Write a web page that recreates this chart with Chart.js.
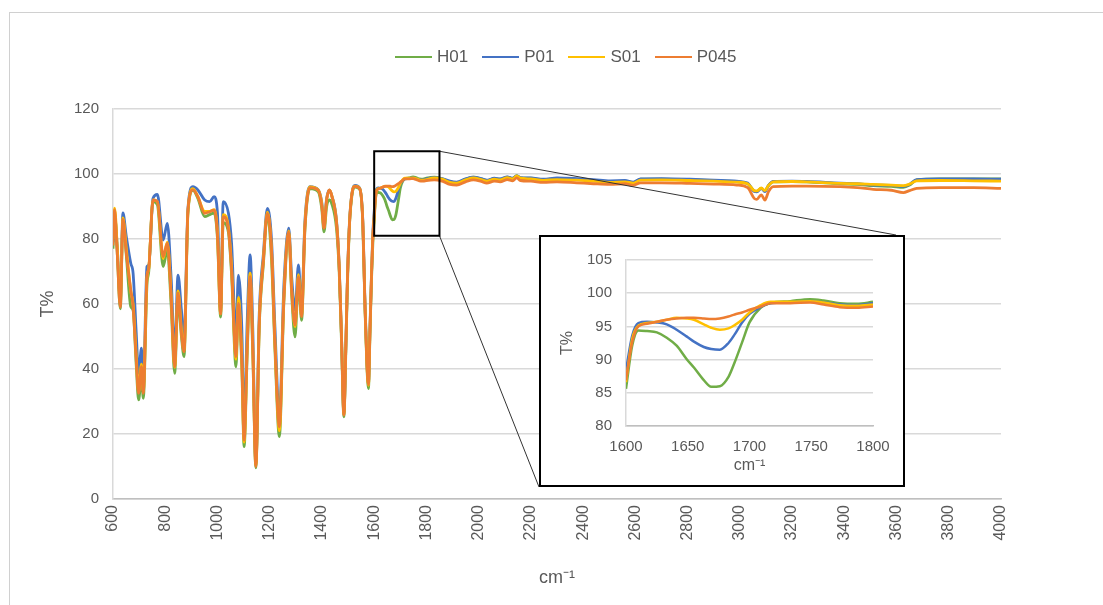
<!DOCTYPE html>
<html>
<head>
<meta charset="utf-8">
<title>FTIR</title>
<script src="https://cdn.jsdelivr.net/npm/chart.js@4"></script>
<style>
  html, body { margin: 0; padding: 0; background: #fff; overflow: hidden; }
  body { width: 1103px; height: 605px; position: relative; font-family: "Liberation Sans", Arial, sans-serif; }
  .frame { position: absolute; left: 9px; top: 12px; width: 1110px; height: 610px; border: 1px solid #d0d0d0; box-sizing: border-box; }
  #chart-main { position: absolute; left: 0; top: 0; }
  .legend { position: absolute; left: 395px; top: 47px; display: flex; align-items: center; font-size: 17px; color: #595959; }
  .legend-item { display: flex; align-items: center; margin-right: 14px; }
  .legend-line { display: inline-block; width: 37px; height: 2px; margin-right: 5px; }
  .inset { position: absolute; background: #fff; border: 2px solid #000; box-sizing: border-box; }
  .inset canvas { position: absolute; left: 0; top: 0; }
</style>
</head>
<body>
<div class="frame"></div>
<canvas id="chart-main" width="1103" height="605"></canvas>
<div class="legend"></div>
<div class="inset"><canvas id="chart-inset" width="362" height="248"></canvas></div>

<script>
// series
var seriesNames = ["H01", "P01", "S01", "P045"];
var seriesColors = ["#70AD47", "#4472C4", "#FFC000", "#ED7D31"];

// fingerprint region, 600 - 1595 cm-1
var lowWavenumbers = [600, 606, 616, 628, 638, 651, 668, 677, 689, 698, 709, 716, 730, 737, 753, 770, 792, 808, 823, 836,
  849, 862, 872, 887, 906, 925, 951, 970, 987, 1000, 1012, 1022, 1042, 1054, 1071, 1080, 1093, 1102, 1114, 1125,
  1135, 1147, 1160, 1176, 1191, 1207, 1220, 1237, 1254, 1273, 1284, 1297, 1310, 1322, 1335, 1354, 1386, 1399, 1408, 1418,
  1428, 1437, 1456, 1466, 1475, 1484, 1492, 1497, 1505, 1515, 1527, 1545, 1556, 1565, 1572, 1578, 1584, 1590, 1595];
var lowH01 = [77, 88, 76, 58.5, 86, 75, 59.2, 58, 41, 30.5, 37.6, 31, 65.8, 70, 91.5, 90.5, 71.5, 76.6, 59, 38.7,
  61.2, 50, 43.8, 88, 95, 92.5, 86.9, 87.5, 88, 80, 56, 85, 82, 69, 40.7, 59, 41, 16.1, 45, 67,
  45, 9.6, 53, 72.5, 87.5, 73.5, 46, 19.2, 60, 81.5, 63, 49.9, 67, 55, 83, 95.5, 94.5, 89.5, 82.2, 90,
  92, 91, 83, 70, 48, 25.3, 47, 64, 83.5, 93.5, 96, 95.2, 85.5, 58, 41, 34, 51, 68, 79];
var lowP01 = [79, 87, 78, 61, 88, 80.7, 72.5, 69.4, 51, 38.7, 46.4, 34.6, 71.5, 72, 92.5, 93.7, 79.7, 84.8, 67.4, 44.8,
  68.9, 58.1, 48.9, 89.5, 96.1, 95.1, 92, 91.5, 93, 88, 58, 91.5, 87.9, 78.7, 49.9, 68.9, 53, 22.2, 55, 75.1,
  53, 10.8, 57.1, 75.6, 89.4, 79.7, 53, 25.3, 65.3, 83.3, 68.4, 58.1, 72, 59.2, 85.8, 96.1, 95.1, 91.5, 85.3, 92.5,
  95, 93.5, 85.5, 72, 50, 26.5, 49, 66, 84.5, 94.2, 96.5, 95.6, 86.5, 60, 43, 35.8, 53, 70, 82];
var lowS01 = [80, 89.5, 78, 60, 86.5, 77, 64, 60, 44, 33, 41.5, 33, 68, 71, 92, 91.5, 74, 79, 62, 40.5,
  64, 52, 45.5, 88.5, 95.5, 93, 88.5, 88.5, 89, 82, 57, 87.5, 83.5, 71.5, 43, 62, 44, 17.5, 48, 69.5,
  48, 10.2, 54.5, 74, 88.3, 76.5, 48.5, 21, 62, 82.5, 65, 53, 69, 56.5, 84.5, 96, 95, 91, 83.5, 92,
  95, 93.5, 85, 71.5, 49.5, 26, 48.5, 65.5, 84, 94, 96.3, 95.5, 86, 59, 42, 35, 52, 69.5, 81];
var lowP045 = [78, 89, 76, 59, 86, 75.6, 64.3, 59, 42.8, 32.5, 40.7, 32.5, 68.4, 71, 92, 91.5, 74.6, 78.7, 61.2, 40.7,
  63.3, 51, 45.3, 88.9, 95.1, 93, 87.9, 88.4, 88.9, 81, 57, 86.9, 82.8, 70.5, 43.8, 60.2, 42.8, 18.1, 46.9, 68.4,
  46.9, 10, 54, 73.5, 87.9, 76.6, 47.9, 22.2, 61.2, 82.2, 64.3, 53.5, 68.4, 56.1, 83.8, 95.8, 95, 90.5, 83.3, 92,
  95.1, 93.5, 85, 71.5, 49.5, 25.8, 48.5, 65.5, 84, 94, 96.2, 95.4, 86, 59, 42, 35.2, 52, 69.5, 81];

// amide band, 1600 - 1800 cm-1 (also shown enlarged)
var insetWavenumbers = [1600, 1605, 1610, 1617, 1625, 1633, 1641, 1649, 1655, 1663, 1669, 1676, 1683, 1688, 1694, 1700,
  1709, 1717, 1733, 1749, 1760, 1773, 1787, 1800];
var insetH01 = [85.6, 92.1, 94.4, 94.3, 94.1, 93.3, 92.1, 90.1, 88.8, 86.9, 85.9, 86.0, 87.4, 89.6, 92.6, 95.6,
  97.8, 98.5, 98.8, 99.1, 98.9, 98.5, 98.4, 98.7];
var insetP01 = [88.4, 93.6, 95.5, 95.7, 95.6, 95.3, 94.5, 93.5, 92.7, 91.9, 91.6, 91.5, 92.5, 93.8, 95.6, 96.9,
  97.9, 98.5, 98.6, 98.8, 98.6, 98.3, 98.2, 98.5];
var insetS01 = [86.6, 93.1, 95.1, 95.5, 95.7, 96.0, 96.3, 96.2, 96.0, 95.3, 94.8, 94.5, 94.7, 95.2, 96.0, 97.1,
  98.2, 98.7, 98.7, 98.8, 98.6, 98.2, 98.1, 98.3];
var insetP045 = [86.9, 92.6, 95.0, 95.4, 95.7, 96.0, 96.2, 96.3, 96.3, 96.2, 96.1, 96.2, 96.5, 96.8, 97.1, 97.5,
  98.0, 98.5, 98.5, 98.6, 98.3, 97.9, 97.8, 98.0];

// 1830 - 4000 cm-1
var highWavenumbers = [1830, 1860, 1890, 1916, 1950, 1980, 2010, 2031, 2060, 2082, 2110, 2130, 2146, 2160, 2200, 2248,
  2300, 2375, 2440, 2503, 2560, 2592, 2620, 2700, 2809, 2900, 2988, 3030, 3055, 3065, 3082, 3096, 3110, 3128, 3200,
  3256, 3384, 3450, 3511, 3580, 3626, 3650, 3677, 3766, 3894, 4000];
var highH01 = [99.0, 98.5, 97.6, 97.4, 98.4, 99.0, 98.5, 98.0, 98.6, 98.4, 99.0, 98.6, 99.5, 98.8, 98.7, 98.2,
  98.6, 98.4, 98.0, 97.6, 97.8, 97.3, 98.4, 98.4, 98.2, 98.0, 97.6, 97.0, 94.8, 94.6, 95.6, 94.8, 96.5, 97.6, 97.7,
  97.6, 97.0, 96.8, 96.4, 96.2, 95.9, 96.6, 98.2, 98.5, 98.5, 98.5];
var highP01 = [98.9, 98.6, 97.8, 97.5, 98.5, 99.0, 98.6, 98.1, 98.7, 98.5, 99.1, 98.7, 99.4, 98.9, 98.8, 98.4,
  98.8, 98.6, 98.3, 97.9, 98.0, 97.5, 98.5, 98.6, 98.4, 98.1, 97.8, 97.2, 94.6, 94.5, 95.6, 94.6, 96.5, 97.7, 97.8,
  97.7, 97.2, 97.0, 96.6, 96.5, 96.2, 96.8, 98.3, 98.5, 98.5, 98.4];
var highS01 = [98.8, 98.4, 97.4, 97.2, 98.2, 98.8, 98.3, 97.8, 98.4, 98.2, 98.9, 98.5, 99.4, 98.7, 98.5, 98.0,
  98.3, 98.1, 97.8, 97.4, 97.6, 97.2, 98.1, 98.2, 98.0, 97.8, 97.5, 97.0, 94.9, 94.8, 95.7, 94.9, 96.5, 97.6, 97.7,
  97.6, 97.1, 97.0, 96.8, 96.6, 96.4, 96.9, 97.9, 98.0, 97.9, 97.8];
var highP045 = [98.2, 97.8, 96.8, 96.6, 97.6, 98.2, 97.7, 97.2, 97.8, 97.6, 98.3, 97.9, 98.8, 98.0, 97.8, 97.4,
  97.6, 97.3, 97.0, 96.8, 97.0, 96.5, 97.3, 97.3, 97.1, 96.9, 96.6, 95.8, 92.5, 92.2, 93.6, 92.0, 94.6, 96.1, 96.3,
  96.3, 96.1, 95.8, 95.3, 95.0, 94.3, 94.9, 95.6, 95.8, 95.8, 95.6];

var lowSeries = [lowH01, lowP01, lowS01, lowP045];
var insetSeries = [insetH01, insetP01, insetS01, insetP045];
var highSeries = [highH01, highP01, highS01, highP045];

// enlarged window, in data units
var zoomRange = { xMin: 1600, xMax: 1850, yMin: 81, yMax: 107 };
var insetBox = { left: 539, top: 235, width: 366, height: 252 };

var textColor = "#595959";
var gridColor = "#d9d9d9";
var fontFamily = "'Liberation Sans', Arial, sans-serif";

/**
 * Zips wavenumbers and values into {x, y} points.
 */
function toPoints(xs, ys) {
  var points = [];
  for (var i = 0; i < xs.length; i++) {
    points.push({ x: xs[i], y: ys[i] });
  }
  return points;
}

/**
 * Plain tick label, no thousands separator.
 */
function plainTick(value) {
  return String(value);
}

/**
 * Builds one line dataset per sample.
 *
 * @param pointsFor function returning the points of sample i
 * @param width line width
 */
function buildDatasets(pointsFor, width) {
  return seriesNames.map(function (name, i) {
    return {
      label: name,
      data: pointsFor(i),
      borderColor: seriesColors[i],
      backgroundColor: seriesColors[i],
      borderWidth: width,
      pointRadius: 0,
      fill: false,
      cubicInterpolationMode: "monotone",
      order: seriesNames.length - i // last sample drawn on top
    };
  });
}

// legend
var legend = document.querySelector(".legend");
seriesNames.forEach(function (name, i) {
  var item = document.createElement("span");
  item.className = "legend-item";
  var line = document.createElement("span");
  line.className = "legend-line";
  line.style.background = seriesColors[i];
  item.appendChild(line);
  item.appendChild(document.createTextNode(name));
  legend.appendChild(item);
});

// inset frame
var insetEl = document.querySelector(".inset");
insetEl.style.left = insetBox.left + "px";
insetEl.style.top = insetBox.top + "px";
insetEl.style.width = insetBox.width + "px";
insetEl.style.height = insetBox.height + "px";

// rectangle around the enlarged window plus the two guide lines
var zoomBoxPlugin = {
  id: "zoomBox",
  afterDraw: function (chart) {
    var x = chart.scales.x;
    var y = chart.scales.y;
    var left = x.getPixelForValue(zoomRange.xMin);
    var right = x.getPixelForValue(zoomRange.xMax);
    var top = y.getPixelForValue(zoomRange.yMax);
    var bottom = y.getPixelForValue(zoomRange.yMin);
    var ctx = chart.ctx;
    ctx.save();
    ctx.strokeStyle = "#333";
    ctx.lineWidth = 1;
    ctx.beginPath();
    ctx.moveTo(right, top);
    ctx.lineTo(insetBox.left + insetBox.width - 9, insetBox.top);
    ctx.moveTo(right, bottom);
    ctx.lineTo(insetBox.left, insetBox.top + insetBox.height);
    ctx.stroke();
    ctx.strokeStyle = "#000";
    ctx.lineWidth = 2;
    ctx.strokeRect(left, top, right - left, bottom - top);
    ctx.restore();
  }
};

var mainChart = new Chart(document.getElementById("chart-main"), {
  type: "line",
  data: {
    datasets: buildDatasets(function (i) {
      return toPoints(lowWavenumbers, lowSeries[i])
        .concat(toPoints(insetWavenumbers, insetSeries[i]))
        .concat(toPoints(highWavenumbers, highSeries[i]));
    }, 2.8)
  },
  options: {
    responsive: false,
    animation: false,
    layout: { padding: { top: 109, right: 102, left: 0, bottom: 0 } },
    plugins: { legend: { display: false }, tooltip: { enabled: false } },
    scales: {
      x: {
        type: "linear",
        min: 600,
        max: 4000,
        ticks: { stepSize: 200, minRotation: 90, maxRotation: 90, padding: 6, color: textColor, font: { family: fontFamily, size: 16 }, callback: plainTick },
        grid: { display: false, drawTicks: false },
        border: { display: true, color: "#bfbfbf", width: 1.5 },
        title: { display: true, text: "cm\u207B\u00B9", color: textColor, font: { family: fontFamily, size: 18 }, padding: { top: 0, bottom: 16 } },
        afterFit: function (scale) { scale.height = 106; }
      },
      y: {
        min: 0,
        max: 120,
        ticks: { stepSize: 20, padding: 14, color: textColor, font: { family: fontFamily, size: 15 }, callback: plainTick },
        grid: { color: gridColor, lineWidth: 1.5, drawTicks: false },
        border: { display: true, color: gridColor, width: 1.5 },
        title: { display: true, text: "T%", color: textColor, font: { family: fontFamily, size: 18 }, padding: { top: 37, bottom: 0 } },
        afterFit: function (scale) { scale.width = 113; }
      }
    }
  },
  plugins: [zoomBoxPlugin]
});

var insetChart = new Chart(document.getElementById("chart-inset"), {
  type: "line",
  data: {
    datasets: buildDatasets(function (i) {
      return toPoints(insetWavenumbers, insetSeries[i]);
    }, 2.5)
  },
  options: {
    responsive: false,
    animation: false,
    layout: { padding: { top: 21, right: 30, left: 0, bottom: 0 } },
    plugins: { legend: { display: false }, tooltip: { enabled: false } },
    scales: {
      x: {
        type: "linear",
        min: 1600,
        max: 1800,
        ticks: { stepSize: 50, maxRotation: 0, padding: 12, color: textColor, font: { family: fontFamily, size: 15 }, callback: plainTick },
        grid: { display: false, drawTicks: false },
        border: { display: true, color: "#bfbfbf", width: 1.5 },
        title: { display: true, text: "cm\u207B\u00B9", color: textColor, font: { family: fontFamily, size: 16 }, padding: { top: 0, bottom: 10 } },
        afterFit: function (scale) { scale.height = 59; }
      },
      y: {
        min: 80,
        max: 105,
        ticks: { stepSize: 5, padding: 14, color: textColor, font: { family: fontFamily, size: 15 }, callback: plainTick },
        grid: { color: gridColor, lineWidth: 1.5, drawTicks: false },
        border: { display: true, color: gridColor, width: 1.5 },
        title: { display: true, text: "T%", color: textColor, font: { family: fontFamily, size: 16 }, padding: { top: 17, bottom: 0 } },
        afterFit: function (scale) { scale.width = 85; }
      }
    }
  }
});
</script>
</body>
</html>
